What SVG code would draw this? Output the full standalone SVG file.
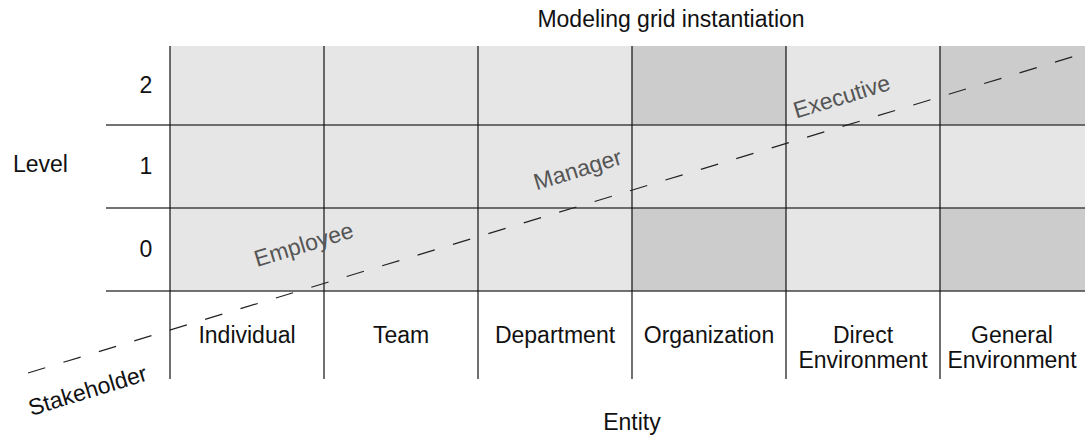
<svg xmlns="http://www.w3.org/2000/svg" width="1085" height="438" viewBox="0 0 1085 438">
<style>
text{font-family:"Liberation Sans",Arial,sans-serif;font-size:23px;fill:#111}
.c{text-anchor:middle}
.role{fill:#555;text-anchor:middle}
.light{fill:#e6e6e6}
.dark{fill:#cccccc}
.h{stroke:#444;stroke-width:1.5}
.v{stroke:#111;stroke-width:1.2}
.dash{stroke:#222;stroke-width:1.2;stroke-dasharray:18 19;fill:none}
</style>
<rect width="1085" height="438" fill="#fff"/>
<g id="cells">
<rect class="light" x="170" y="46" width="915" height="245"/>
<rect class="dark" x="632" y="46" width="154" height="79"/>
<rect class="dark" x="632" y="208" width="154" height="83"/>
<rect class="dark" x="940" y="46" width="145" height="79"/>
<rect class="dark" x="940" y="208" width="145" height="83"/>
</g>
<g id="grid">
<line class="h" x1="106" y1="125" x2="1085" y2="125"/>
<line class="h" x1="106" y1="208" x2="1085" y2="208"/>
<line class="h" x1="106" y1="291" x2="1085" y2="291"/>
<line class="v" x1="170" y1="46" x2="170" y2="379"/>
<line class="v" x1="324" y1="46" x2="324" y2="379"/>
<line class="v" x1="478" y1="46" x2="478" y2="379"/>
<line class="v" x1="632" y1="46" x2="632" y2="379"/>
<line class="v" x1="786" y1="46" x2="786" y2="379"/>
<line class="v" x1="940" y1="46" x2="940" y2="379"/>
</g>
<g id="title"><text class="c" x="671" y="27">Modeling grid instantiation</text></g>
<g id="level-axis">
<text x="13" y="172">Level</text>
<text class="c" x="146" y="93">2</text>
<text class="c" x="146" y="174">1</text>
<text class="c" x="146" y="257">0</text>
</g>
<g id="entities">
<text class="c" x="247" y="343">Individual</text>
<text class="c" x="401" y="343">Team</text>
<text class="c" x="555" y="343">Department</text>
<text class="c" x="709" y="343">Organization</text>
<text class="c" x="863" y="343">Direct</text>
<text class="c" x="863" y="368">Environment</text>
<text class="c" x="1012" y="343">General</text>
<text class="c" x="1012" y="368">Environment</text>
<text class="c" x="632" y="430">Entity</text>
</g>
<g id="connectors">
<line class="dash" x1="28" y1="373" x2="1085" y2="53"/>
</g>
<g id="stakeholder-labels">
<text class="role" x="306" y="252" transform="rotate(-17 306 252)">Employee</text>
<text class="role" x="580" y="177" transform="rotate(-17 580 177)">Manager</text>
<text class="role" x="844" y="104" transform="rotate(-17 844 104)">Executive</text>
<text class="c" x="90" y="398" transform="rotate(-17 90 398)">Stakeholder</text>
</g>
</svg>
